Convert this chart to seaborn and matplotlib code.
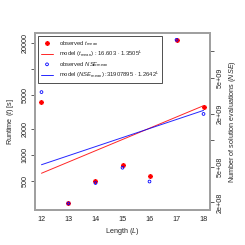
import numpy as np
import pandas as pd
import matplotlib
matplotlib.use("Agg")
import matplotlib.pyplot as plt
import seaborn as sns

# ---- data ----
length = [12, 13, 14, 15, 16, 17, 18]
t_mean = [4120, 273, 493, 767, 572, 21500, 3606]
nse_mean = [3.49e9, 1.95e8, 3.31e8, 4.92e8, 3.44e8, 1.35e10, 1.98e9]
t_coef, t_base = 16.603, 1.3505
nse_coef, nse_base = 31907895, 1.2642
left_ticks = [500, 1000, 2000, 5000, 10000, 20000]
left_labels = ["500", "1000", "2000", "5000", "", "20000"]
right_ticks = [2e8, 5e8, 1e9, 2e9, 5e9, 1e10]
right_labels = ["2e+08", "5e+08", "", "2e+09", "5e+09", ""]
x_ticks = [12, 13, 14, 15, 16, 17, 18]

sns.set_theme(style="white")
plt.rcParams["font.family"] = ["Liberation Sans", "DejaVu Sans"]
plt.rcParams["mathtext.fontset"] = "custom"
plt.rcParams["mathtext.rm"] = "Liberation Sans"
plt.rcParams["mathtext.it"] = "Liberation Sans:italic"

df = pd.DataFrame({"L": length, "t": t_mean, "nse": nse_mean})
df["t_model"] = [t_coef * t_base ** v for v in length]
df["nse_model"] = [nse_coef * nse_base ** v for v in length]

fig = plt.figure(figsize=(2.45, 2.45), dpi=100)
ax = fig.add_axes([35/245, 1-210/245, 175/245, 176.7/245])
ax2 = ax.twinx()

fs = 5.2
grey = "#a0a0a0"

sns.scatterplot(data=df, x="L", y="t", ax=ax, marker=(8, 2, 0), s=7,
                color="red", linewidth=0.9, edgecolor="red", zorder=3,
                label=r"observed $t_{\mathrm{mean}}$", legend=False)
sns.lineplot(data=df, x="L", y="t_model", ax=ax, color="red", lw=0.7,
             alpha=0.85, label=r"model ($t_{\mathrm{mean}}$) : 16.603 $\cdot$ 1.3505$^L$", legend=False)
sns.scatterplot(data=df, x="L", y="nse", ax=ax2, marker="o", s=4,
                facecolor="none", edgecolor="blue", linewidth=0.6, zorder=4,
                label=r"observed $NSE_{\mathrm{mean}}$", legend=False)
sns.lineplot(data=df, x="L", y="nse_model", ax=ax2, color="blue", lw=0.7,
             alpha=0.85, label=r"model ($NSE_{\mathrm{mean}}$) :31907895 $\cdot$ 1.2642$^L$", legend=False)

for a in (ax, ax2):
    a.set_yscale("log")

def lim(vals):
    lo, hi = np.log10(min(vals)), np.log10(max(vals))
    d = (hi - lo) * 0.04
    return 10 ** (lo - d), 10 ** (hi + d)

ax.set_ylim(*lim(t_mean))
ax2.set_ylim(*lim(nse_mean))
ax.set_xlim(12 - 0.24, 18 + 0.24)

ax.set_yticks(left_ticks)
ax.set_yticklabels(left_labels, rotation=90, va="center", fontsize=fs, color="#222222")
ax.yaxis.set_minor_locator(matplotlib.ticker.NullLocator())
ax2.set_yticks(right_ticks)
ax2.set_yticklabels(right_labels, rotation=90, va="center", fontsize=fs, color="#222222")
ax2.yaxis.set_minor_locator(matplotlib.ticker.NullLocator())
ax.set_xticks(x_ticks)
ax.set_xticklabels([str(v) for v in x_ticks], fontsize=fs, color="#222222")

for a in (ax, ax2):
    a.tick_params(axis="both", which="major", direction="out", length=3, width=0.6,
                  color="#444444", pad=1.5)
    for sp in a.spines.values():
        sp.set_color(grey)
        sp.set_linewidth(1.4)

ax.set_xlabel(r"Length ($L$)", fontsize=fs, labelpad=2)
ax.set_ylabel(r"Runtime ($t$) [s]", fontsize=fs, labelpad=4)
ax2.set_ylabel(r"Number of solution evaluations ($NSE$)", fontsize=fs, labelpad=3)

h1, l1 = ax.get_legend_handles_labels()
h2, l2 = ax2.get_legend_handles_labels()
leg = ax2.legend(h1 + h2, l1 + l2, loc="upper left", bbox_to_anchor=(0.017, 0.983),
                 fontsize=4.2, frameon=True, fancybox=False, framealpha=1,
                 edgecolor="#333333", handlelength=2.2, handletextpad=1.0,
                 borderpad=0.45, labelspacing=0.15, borderaxespad=0, markerscale=1.0)
leg.get_frame().set_linewidth(0.6)

fig.savefig("out.png", dpi=100)
